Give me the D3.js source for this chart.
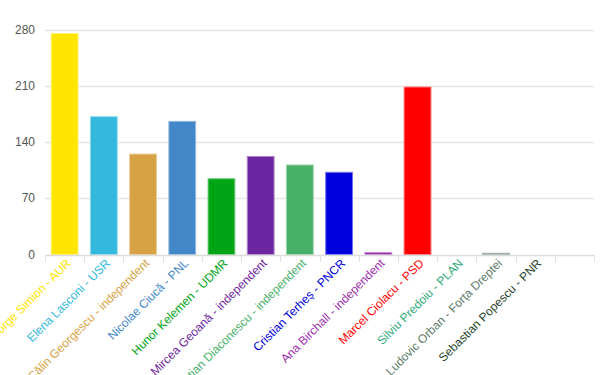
<!DOCTYPE html>
<html><head><meta charset="utf-8">
<script src="https://cdn.jsdelivr.net/npm/d3@7"></script>
<style>body{margin:0;background:#fff;font-family:"Liberation Sans",Arial,sans-serif;}</style>
</head><body><svg id="c" width="604" height="375"></svg>
<script>
const categories = ["George Simion - AUR","Elena Lasconi - USR","Călin Georgescu - independent","Nicolae Ciucă - PNL","Hunor Kelemen - UDMR","Mircea Geoană - independent","Cristian Diaconescu - independent","Cristian Terheș - PNCR","Ana Birchall - independent","Marcel Ciolacu - PSD","Silviu Predoiu - PLAN","Ludovic Orban - Forța Dreptei","Sebastian Popescu - PNR",""];
const values = [275, 171.5, 125, 165.7, 94.3, 122, 111.4, 102.3, 2.5, 208.4, 0, 1.5, 0, 0];
const colors = ["#ffe500","#33b8de","#d6a243","#4287c8","#00a516","#6c25a0","#48b068","#0000dd","#9b2fae","#ff0000","#2eaa7a","#5d7a6a","#1f3f2b","#999999"];
const yTicks = [0,70,140,210,280];

const svg = d3.select("#c");
const m = {left:45, right:594, top:29.5, bottom:254.5};
const x = d3.scaleBand().domain(categories.map((d,i)=>i)).range([m.left,m.right]).paddingInner(0.29).paddingOuter(0.145);
const y = d3.scaleLinear().domain([0,280]).range([m.bottom,m.top]);

svg.append("g").selectAll("line").data(yTicks.filter(t=>t>0)).join("line")
  .attr("x1",m.left).attr("x2",m.right)
  .attr("y1",d=>Math.round(y(d))+0.5).attr("y2",d=>Math.round(y(d))+0.5)
  .attr("stroke","#e6e6e6").attr("stroke-width",1.5);
svg.append("g").selectAll("text").data(yTicks).join("text")
  .attr("x",35).attr("y",d=>y(d)).attr("dy","0.35em")
  .attr("text-anchor","end").attr("font-size",12).attr("fill","#555").text(d=>d);

svg.append("g").selectAll("rect").data(values).join("rect")
  .attr("x",(d,i)=>x(i)+0.5).attr("width",x.bandwidth()-1)
  .attr("y",d=>y(d)).attr("height",d=>Math.max(0,m.bottom-y(d)))
  .attr("fill",(d,i)=>colors[i])
  .attr("stroke",(d,i)=>d3.interpolateRgb(colors[i],"#fff")(0.45))
  .attr("stroke-width",d=>d>0?1:0);

svg.append("line").attr("x1",m.left).attr("x2",m.right).attr("y1",255.5).attr("y2",255.5).attr("stroke","#dcdcdc").attr("stroke-width",1.5);
svg.append("g").selectAll("line").data(d3.range(categories.length+1)).join("line")
  .attr("x1",i=>Math.round(m.left+i*(m.right-m.left)/categories.length)+0.5)
  .attr("x2",i=>Math.round(m.left+i*(m.right-m.left)/categories.length)+0.5)
  .attr("y1",255).attr("y2",262).attr("stroke","#e0e0e0");

svg.append("g").selectAll("text").data(categories).join("text")
  .attr("transform",(d,i)=>`translate(${x(i)+x.bandwidth()/2+7},${264}) rotate(-45)`)
  .attr("text-anchor","end").attr("font-size",12).attr("fill",(d,i)=>colors[i]).text(d=>d);
</script></body></html>
